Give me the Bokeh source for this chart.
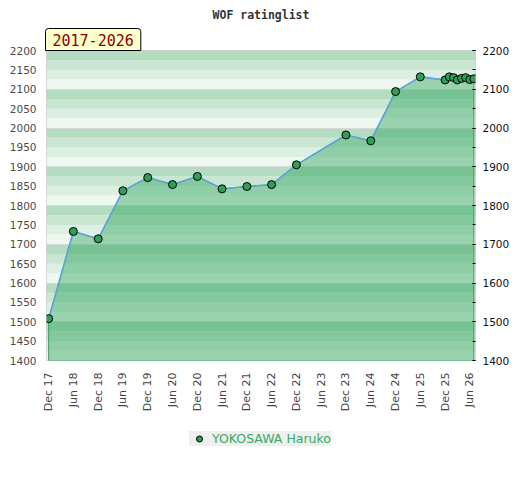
import numpy as np
import pandas as pd
from bokeh.plotting import figure
from bokeh.layouts import column
from bokeh.models import (Range1d, LinearAxis, FixedTicker, SingleIntervalTicker,
                          DatetimeTickFormatter, Title, Legend, LegendItem)
from bokeh.embed import file_html
from bokeh.resources import INLINE

# ---------------- data ----------------
title_text = "WOF ratinglist"
period_text = "2017-2026"
player = "YOKOSAWA Haruko"

dates = ["2017-12-01", "2018-06-01", "2018-12-01", "2019-06-01", "2019-12-01",
         "2020-06-01", "2020-12-01", "2021-06-01", "2021-12-01", "2022-06-01",
         "2022-12-01", "2023-12-01", "2024-06-01", "2024-12-01", "2025-06-01",
         "2025-12-01", "2026-01-01", "2026-02-01", "2026-03-01", "2026-04-01",
         "2026-05-01", "2026-06-01", "2026-07-01"]
ratings = [1508, 1733, 1714, 1838, 1872,
           1854, 1875, 1843, 1849, 1854,
           1905, 1982, 1967, 2094, 2132,
           2124, 2132, 2130, 2124, 2128,
           2130, 2125, 2127]

tick_dates = ["2017-12-01", "2018-06-01", "2018-12-01", "2019-06-01", "2019-12-01",
              "2020-06-01", "2020-12-01", "2021-06-01", "2021-12-01", "2022-06-01",
              "2022-12-01", "2023-06-01", "2023-12-01", "2024-06-01", "2024-12-01",
              "2025-06-01", "2025-12-01", "2026-06-01"]
x_start_date = "2017-11-15"
x_end_date = "2026-07-13"
y_min, y_max = 1400, 2200
left_tick_step = 50
right_tick_step = 100


def to_ms(s):
    return pd.Timestamp(s).value / 1e6


x = [to_ms(d) for d in dates]
ticks = [to_ms(d) for d in tick_dates]
x0, x1 = to_ms(x_start_date), to_ms(x_end_date)

# ---------------- main figure ----------------
p = figure(width=520, height=420, x_axis_type="datetime",
           x_range=Range1d(x0, x1), y_range=Range1d(y_min, y_max),
           output_backend="svg", toolbar_location=None,
           min_border_left=46, min_border_right=45, min_border_top=50, min_border_bottom=60,
           background_fill_color="white", border_fill_color="white")
p.outline_line_color = "#cfcfcf"
p.xgrid.visible = False
p.ygrid.visible = False

# background bands (4 shades per 100 points)
band_colors = ["#eff7f1", "#ddefe3", "#c9e6d3", "#b4dcc1"]
bottoms = np.arange(y_min, y_max, 25)
p.quad(left=x0, right=x1, bottom=bottoms, top=bottoms + 25,
       fill_color=[band_colors[int((b % 100) // 25)] for b in bottoms], line_color=None)
p.hspan(y=list(range(y_min + 100, y_max, 100)), line_color="#d6d9d7", line_width=1)

# area
xs_area = [x[0]] + x + [x[-1]]
ys_area = [y_min] + ratings + [y_min]
p.patch(xs_area, ys_area, fill_color="#2ca55c", fill_alpha=0.44,
        line_color="#3a9c5c", line_width=1)
p.line(x, ratings, line_color="#5ea3da", line_width=1.6)
p.scatter(x, ratings, size=8, fill_color="#2f9e56", line_color="black", line_width=1)

# axes
xa = p.xaxis[0]
xa.ticker = FixedTicker(ticks=ticks)
fmt = "%b %y"
xa.formatter = DatetimeTickFormatter(years=fmt, months=fmt, days=fmt, hours=fmt,
                                     minutes=fmt, seconds=fmt, milliseconds=fmt,
                                     microseconds=fmt, minsec=fmt, hourmin=fmt)
xa.major_label_orientation = np.pi / 2
xa.major_tick_out = 0
xa.major_tick_in = 0
xa.minor_tick_out = 0
xa.minor_tick_in = 0
xa.axis_line_color = None
xa.major_label_standoff = 12
xa.major_label_text_font = "DejaVu Sans"
xa.major_label_text_font_size = "11px"
xa.major_label_text_color = "#444444"

ya = p.yaxis[0]
ya.ticker = SingleIntervalTicker(interval=left_tick_step, num_minor_ticks=0)
ya.major_tick_out = 0
ya.major_tick_in = 0
ya.minor_tick_out = 0
ya.minor_tick_in = 0
ya.axis_line_color = None
ya.major_label_standoff = 10
ya.major_label_text_font = "DejaVu Sans"
ya.major_label_text_font_size = "10.5px"
ya.major_label_text_color = "#4a4a4a"

ra = LinearAxis(ticker=SingleIntervalTicker(interval=right_tick_step, num_minor_ticks=2))
ra.major_tick_out = 0
ra.major_tick_in = 3
ra.minor_tick_out = 0
ra.minor_tick_in = 3
ra.major_tick_line_color = "black"
ra.minor_tick_line_color = "black"
ra.axis_line_color = None
ra.major_label_standoff = 7
ra.major_label_text_font = "DejaVu Sans"
ra.major_label_text_font_size = "10.5px"
ra.major_label_text_color = "#111111"
p.add_layout(ra, "right")

# period box (closest to the frame) and title (outermost)
p.add_layout(Title(text=period_text, align="left", offset=-1, standoff=0,
                   text_font="DejaVu Sans Mono", text_font_style="normal",
                   text_font_size="15px", text_color="#8b0000",
                   background_fill_color="#ffffcc", border_line_color="black",
                   border_line_width=1, padding=(7, 5), border_radius=(3, 3, 0, 0)), "above")
p.title.text = title_text
p.title.align = "center"
p.title.standoff = 9
p.title.text_font = "DejaVu Sans Mono"
p.title.text_font_style = "bold"
p.title.text_font_size = "11.5px"
p.title.text_color = "#333333"

# ---------------- legend strip ----------------
pl = figure(width=520, height=60, x_range=Range1d(0, 1), y_range=Range1d(0, 1),
            output_backend="svg", toolbar_location=None, x_axis_location=None,
            y_axis_location=None, min_border=0, outline_line_color=None,
            background_fill_color="white", border_fill_color="white")
pl.grid.visible = False
# marker kept outside the visible range: only its legend swatch is drawn
legend_marker = pl.scatter(x=[5], y=[5], size=7, fill_color="#2f9e56",
                           line_color="black", line_width=1)
legend = Legend(items=[LegendItem(label=player, renderers=[legend_marker])],
                location=(143, 34), orientation="horizontal",
                background_fill_color="#efefef", background_fill_alpha=1,
                border_line_color=None, padding=2, spacing=0, margin=0,
                glyph_width=20, glyph_height=15, label_standoff=3,
                label_text_font="DejaVu Sans", label_text_font_size="12.5px",
                label_text_color="#3aa864")
pl.add_layout(legend)

layout = column(p, pl, spacing=0)
open("out.html", "w").write(file_html(layout, INLINE))
